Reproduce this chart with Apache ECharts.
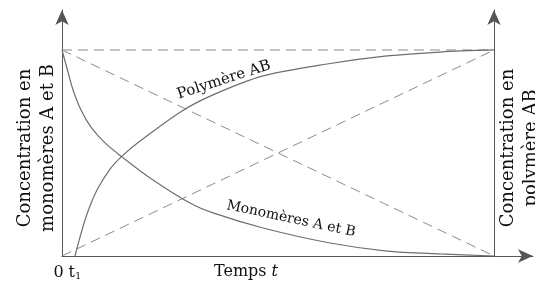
<!DOCTYPE html>
<html>
<head>
<meta charset="utf-8">
<script src="https://cdn.jsdelivr.net/npm/echarts@6/dist/echarts.min.js"></script>
<style>
html, body { margin: 0; padding: 0; background: #fff; }
#container { width: 535px; height: 284px; }
</style>
</head>
<body>
<div id="container"></div>
<script>
// temps t (0..10) et concentration normalisee (0..1)
var polymere = [[0.301, 0], [0.417, 0.092], [0.579, 0.204], [0.81, 0.32], [1.111, 0.422], [1.389, 0.485],
    [1.806, 0.558], [2.778, 0.704], [3.495, 0.782], [4.653, 0.874], [6.134, 0.932],
    [7.523, 0.971], [8.75, 0.99], [10, 1]];
var monomeres = [[0, 1], [0.139, 0.893], [0.255, 0.806], [0.44, 0.709], [0.671, 0.626], [0.995, 0.549],
    [1.389, 0.481], [2.037, 0.379], [2.963, 0.257], [3.495, 0.209], [4.653, 0.136], [6.204, 0.063],
    [7.523, 0.024], [8.75, 0.01], [10, 0]];
var lignePlateau = [[0, 1], [10, 1]];
var diagDesc = [[0, 1], [10, 0]];
var diagMont = [[0, 0], [10, 1]];
var tickValues = [0, 0.3];
var tickLabels = ['{z|0}', '{t|t}{s|1}'];

var serif = 'DejaVu Serif';
var dom = document.getElementById('container');
var myChart = echarts.init(dom);

function dashed(data) {
    return {
        type: 'line', data: data, symbol: 'none', silent: true,
        lineStyle: { color: '#8a8a8a', width: 1, type: [10, 6] }
    };
}

function label(txt, x, y, deg, size) {
    return {
        type: 'text', x: x, y: y, rotation: deg * Math.PI / 180,
        style: {
            text: txt, fontFamily: serif, fontSize: size, fill: '#111',
            align: 'center', verticalAlign: 'middle', lineHeight: 23
        }
    };
}

option = {
    animation: false,
    grid: { left: 62, right: 2, top: 10, bottom: 28 },
    xAxis: {
        type: 'value', min: 0, max: 10.9,
        splitLine: { show: false },
        axisTick: { show: false },
        axisLine: { lineStyle: { color: '#555', width: 1 }, symbol: ['none', 'arrow'], symbolSize: [10, 15] },
        axisLabel: {
            customValues: tickValues,
            margin: 9,
            fontFamily: serif, fontSize: 16, color: '#111',
            formatter: function (v) { return tickLabels[tickValues.indexOf(v)] || ''; },
            rich: {
                z: { fontFamily: serif, fontSize: 16, color: '#111', padding: [0, 7, 0, 0] },
                t: { fontFamily: serif, fontSize: 16, color: '#111' },
                s: { fontFamily: serif, fontSize: 10, color: '#111', padding: [6, 0, 0, 0] }
            }
        }
    },
    yAxis: [{
        type: 'value', min: 0, max: 1.194,
        splitLine: { show: false },
        axisTick: { show: false },
        axisLabel: { show: false },
        axisLine: { onZero: false, lineStyle: { color: '#555', width: 1 }, symbol: ['none', 'arrow'], symbolSize: [10, 15] }
    }, {
        type: 'value', min: 0, max: 1.194, position: 'right', offset: -39,
        splitLine: { show: false },
        axisTick: { show: false },
        axisLabel: { show: false },
        axisLine: { show: true, onZero: false, lineStyle: { color: '#555', width: 1 }, symbol: ['none', 'arrow'], symbolSize: [10, 15] }
    }],
    series: [
        dashed(lignePlateau),
        dashed(diagDesc),
        dashed(diagMont),
        {
            name: 'Polymère AB', type: 'line', data: polymere, symbol: 'none',
            smooth: 0.3,
            lineStyle: { color: '#6e6e6e', width: 1.2 }
        },
        {
            name: 'Monomères A et B', type: 'line', data: monomeres, symbol: 'none',
            smooth: 0.3,
            lineStyle: { color: '#6e6e6e', width: 1.2 }
        }
    ],
    graphic: [
        label('Concentration en\nmonomères A et B', 37, 148, 90, 18),
        label('Concentration en\npolymère AB', 520, 148, 90, 18),
        {
            type: 'text', x: 246, y: 272,
            style: {
                text: '{n|Temps }{i|t}', align: 'center', verticalAlign: 'middle',
                rich: {
                    n: { fontFamily: serif, fontSize: 16, fill: '#111' },
                    i: { fontFamily: serif, fontSize: 16, fontStyle: 'italic', fill: '#111' }
                }
            }
        },
        label('Polymère AB', 224, 80, 18, 15),
        label('Monomères A et B', 291, 219, -12, 14)
    ]
};
myChart.setOption(option, true);
</script>
</body>
</html>
